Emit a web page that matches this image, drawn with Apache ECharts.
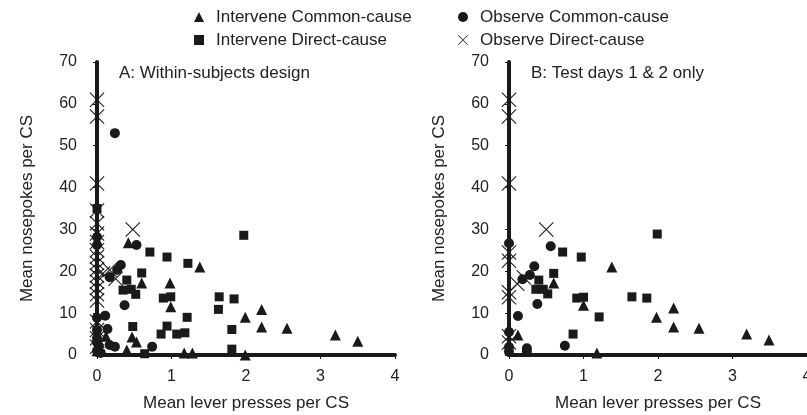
<!DOCTYPE html>
<html>
<head>
<meta charset="utf-8">
<script src="https://cdn.jsdelivr.net/npm/echarts@6/dist/echarts.min.js"></script>
<style>
  html, body { margin: 0; padding: 0; background: #fff; }
  #main { width: 807px; height: 415px; }
</style>
</head>
<body>
<div id="main"></div>
<script>
  // series names
  const seriesNames = ['Intervene Common-cause', 'Intervene Direct-cause', 'Observe Common-cause', 'Observe Direct-cause'];
  const panelTitles = ['A: Within-subjects design', 'B: Test days 1 & 2 only'];
  const xTicks = [0, 1, 2, 3, 4];
  const yTicks = [0, 10, 20, 30, 40, 50, 60, 70];

  // panel A  [lever presses, nosepokes]
  const aIntCommon = [[0.42,26.8],[0.6,17.2],[0.98,17.2],[0.99,11.5],[1.38,21],[1.99,9],[2.21,10.9],[2.21,6.7],[2.55,6.4],[3.2,4.8],[3.5,3.3],[1.99,0],[1.17,0.5],[1.28,0.5],[0.47,4.3],[0.53,3.1],[0.4,1.2],[0.12,4.5],[0,1],[0.03,3]];
  const aIntDirect = [[0,35],[0.71,24.6],[0.94,23.4],[1.22,21.9],[1.97,28.6],[0.6,19.6],[0.4,17.9],[0.35,15.5],[0.46,15.7],[0.52,14.5],[0.89,13.6],[0.99,13.9],[1.64,13.9],[1.84,13.4],[1.63,10.9],[1.21,9],[0.94,6.9],[0.86,5],[1.07,5],[1.18,5.3],[0.48,6.8],[1.81,6.1],[1.81,1.4],[0.64,0.3],[0.02,1.5]];
  const aObsCommon = [[0.24,53],[0,28.2],[0,26.3],[0.53,26.3],[0.32,21.5],[0.27,20.3],[0.17,18.6],[0.37,11.9],[0.11,9.4],[0.14,6.2],[0,8.9],[0,6],[0.17,2.4],[0.24,2],[0.74,2],[0,3],[0,1],[0.05,0.5],[0,4]];
  const aObsDirect = [[0,61],[0,57],[0,41],[0,34.5],[0,31.5],[0,29],[0.48,30],[0,27],[0,25],[0,23.5],[0,22],[0,20.5],[0,19],[0,17.5],[0,16],[0,14.5],[0,13],[0.08,19.5],[0.17,20.3],[0.25,18.2],[0,8],[0,6],[0,4],[0,2]];

  // panel B
  const bIntCommon = [[1.38,21],[1,11.9],[1.98,9],[2.21,11.2],[2.21,6.7],[2.55,6.4],[3.19,5],[3.49,3.6],[1.18,0.5],[0.6,17.2],[0.12,4.8]];
  const bIntDirect = [[1.99,28.9],[0.72,24.6],[0.97,23.4],[0.6,19.5],[0.4,17.9],[0.36,15.7],[0.46,15.7],[0.52,14.6],[0.91,13.6],[1.0,13.8],[1.21,9.1],[0.86,5],[1.65,13.9],[1.85,13.6]];
  const bObsCommon = [[0,26.7],[0.56,26],[0.34,21.2],[0.28,19.1],[0.18,18.1],[0.38,12.2],[0.12,9.3],[0,5.5],[0,1.9],[0.24,1.6],[0.75,2.2],[0,0.8],[0.24,0.8]];
  const bObsDirect = [[0,61],[0,57],[0,41],[0.5,30],[0,24.5],[0,22.5],[0.11,17],[0.2,18.5],[0,15],[0,13.8],[0,4.5],[0,3]];

  const ink = '#1a1a1a';
  const txt = '#222';
  const font = 'Liberation Sans, Arial, sans-serif';
  const crossPath = 'path://M0,5L5,0L50,45L95,0L100,5L55,50L100,95L95,100L50,55L5,100L0,95L45,50Z';
  const symbols = [
    {symbol: 'triangle', size: 11},
    {symbol: 'rect', size: 9},
    {symbol: 'circle', size: 10},
    {symbol: crossPath, size: 15}
  ];
  const panels = [[aIntCommon, aIntDirect, aObsCommon, aObsDirect], [bIntCommon, bIntDirect, bObsCommon, bObsDirect]];

  let myEchart = echarts.init(document.getElementById('main'));

  function xAxisFor(i) {
    return {
      gridIndex: i,
      type: 'value',
      min: xTicks[0],
      max: xTicks[xTicks.length - 1],
      interval: 1,
      name: 'Mean lever presses per CS',
      nameLocation: 'middle',
      nameGap: 40,
      nameTextStyle: {fontSize: 17, color: txt},
      axisLine: {show: true, lineStyle: {color: ink, width: 4}},
      axisTick: {show: true, length: 4, lineStyle: {color: ink, width: 1}},
      axisLabel: {margin: 14, fontSize: 16, color: txt},
      splitLine: {show: false}
    };
  }
  function yAxisFor(i) {
    return {
      gridIndex: i,
      type: 'value',
      min: yTicks[0],
      max: yTicks[yTicks.length - 1],
      interval: 10,
      name: 'Mean nosepokes per CS',
      nameLocation: 'middle',
      nameGap: 61,
      nameTextStyle: {fontSize: 17, color: txt},
      axisLine: {show: true, lineStyle: {color: ink, width: 4}},
      axisTick: {show: true, length: 4, lineStyle: {color: ink, width: 1}},
      axisLabel: {margin: 20, fontSize: 16, color: txt},
      splitLine: {show: false}
    };
  }

  const series = [];
  panels.forEach(function (sets, p) {
    sets.forEach(function (data, k) {
      series.push({
        name: seriesNames[k],
        type: 'scatter',
        xAxisIndex: p,
        yAxisIndex: p,
        symbol: symbols[k].symbol,
        symbolSize: symbols[k].size,
        clip: false,
        itemStyle: {color: ink, opacity: 1},
        emphasis: {disabled: true},
        data: data
      });
    });
  });

  const legendBase = {
    orient: 'vertical',
    top: 7,
    padding: 0,
    itemGap: 3,
    itemWidth: 10,
    itemHeight: 10,
    textStyle: {fontSize: 17, color: txt, lineHeight: 20, padding: [0, 0, 0, 7]}
  };

  myEchart.setOption({
    animation: false,
    textStyle: {fontFamily: font},
    title: [
      {text: panelTitles[0], left: 119, top: 65, padding: 0, textStyle: {fontSize: 17, fontWeight: 'normal', color: txt}},
      {text: panelTitles[1], left: 531, top: 65, padding: 0, textStyle: {fontSize: 17, fontWeight: 'normal', color: txt}}
    ],
    legend: [
      Object.assign({}, legendBase, {left: 194, data: [seriesNames[0], seriesNames[1]]}),
      Object.assign({}, legendBase, {left: 458, data: [seriesNames[2], seriesNames[3]]})
    ],
    grid: [
      {left: 97, top: 62, width: 298, height: 293, outerBoundsMode: 'none'},
      {left: 509, top: 62, width: 298, height: 293, outerBoundsMode: 'none'}
    ],
    xAxis: [xAxisFor(0), xAxisFor(1)],
    yAxis: [yAxisFor(0), yAxisFor(1)],
    series: series
  });
  window.addEventListener('resize', myEchart.resize);
</script>
</body>
</html>
